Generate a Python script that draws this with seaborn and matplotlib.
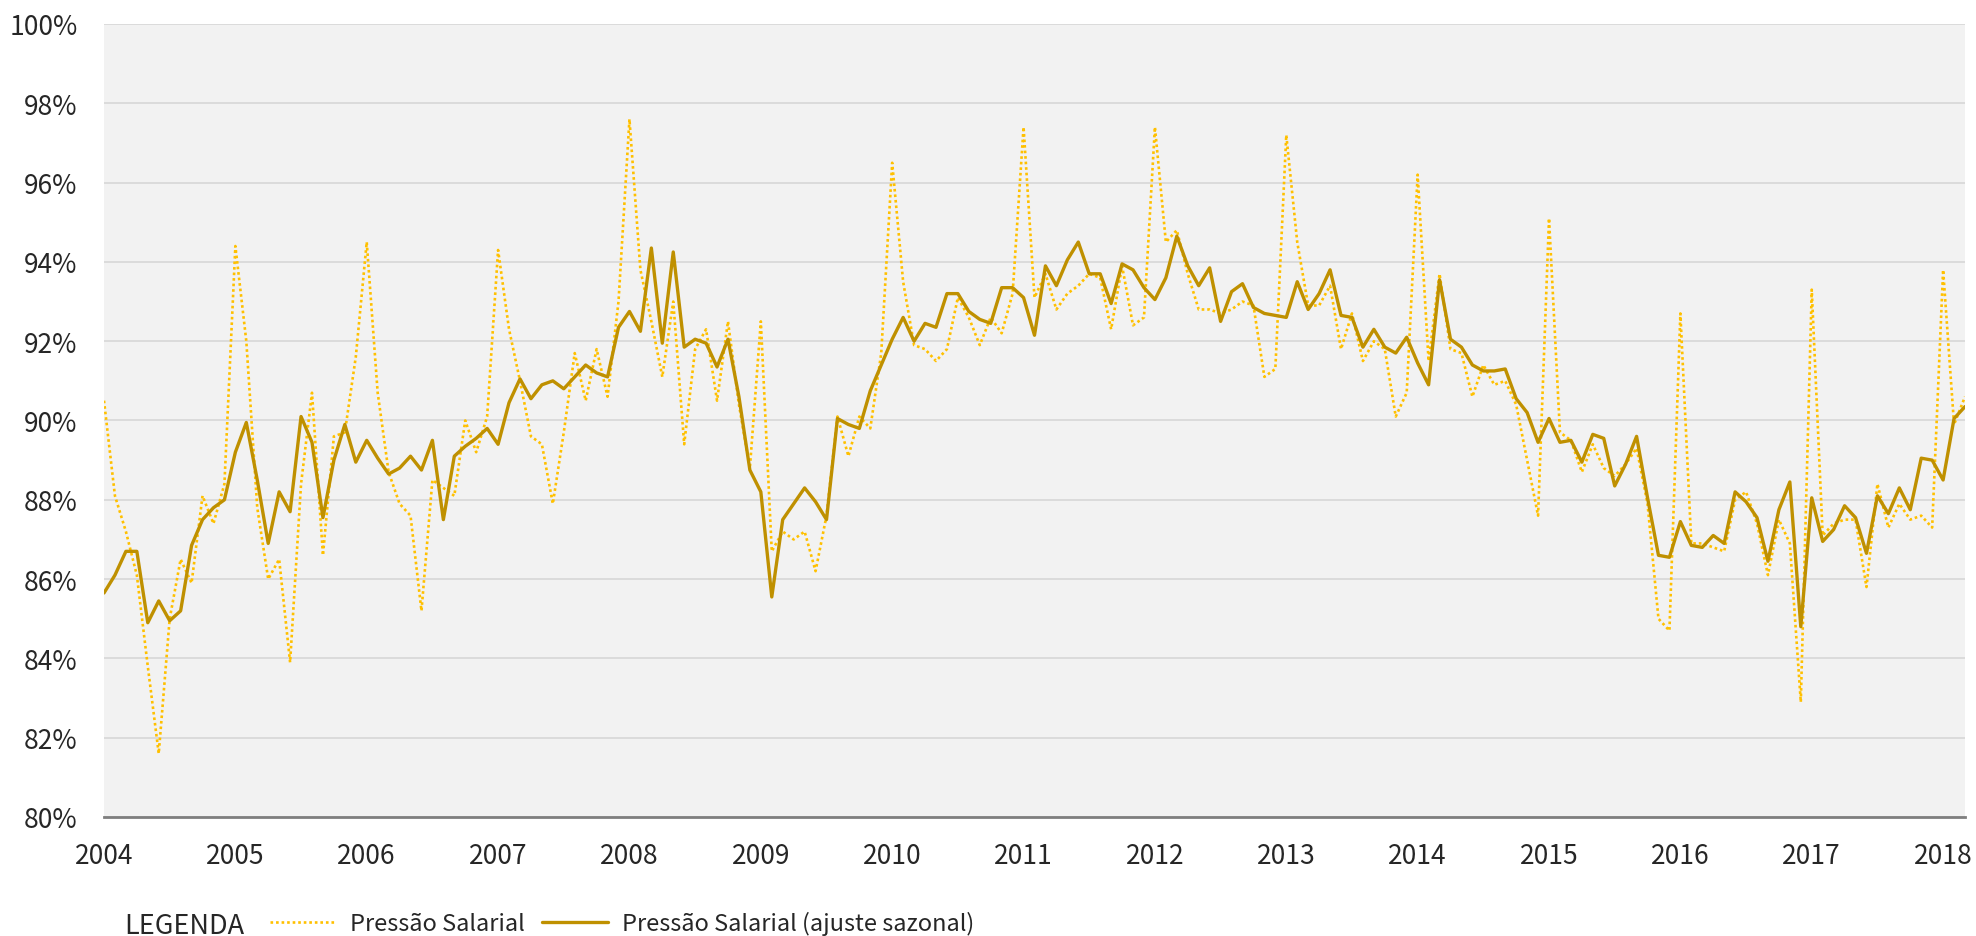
import numpy as np
import pandas as pd
import matplotlib
matplotlib.use("Agg")
import matplotlib.pyplot as plt
from matplotlib.ticker import FuncFormatter
import seaborn as sns

# monthly series, Jan 2004 .. Mar 2018 (values in %)
start_year = 2004
pressao = [
    90.5, 88.1, 87.2, 86.1, 83.8, 81.6, 85.0, 86.5, 85.9, 88.1, 87.4, 88.4,
    94.4, 92.0, 87.8, 86.0, 86.5, 83.9, 88.4, 90.7, 86.6, 89.6, 89.7, 91.6,
    94.5, 90.7, 88.7, 87.9, 87.6, 85.2, 88.5, 88.3, 88.1, 90.0, 89.2, 90.1,
    94.3, 92.3, 91.0, 89.6, 89.4, 87.9, 89.7, 91.7, 90.5, 91.8, 90.6, 93.0,
    97.6, 93.8, 92.5, 91.1, 93.0, 89.4, 91.8, 92.3, 90.5, 92.5, 90.4, 88.8,
    92.5, 86.7, 87.2, 87.0, 87.2, 86.2, 87.6, 90.1, 89.1, 90.1, 89.8, 91.7,
    96.5, 93.5, 91.9, 91.8, 91.5, 91.8, 93.1, 92.6, 91.9, 92.6, 92.2, 93.2,
    97.4, 93.1, 93.7, 92.8, 93.2, 93.4, 93.7, 93.6, 92.3, 93.9, 92.4, 92.6,
    97.4, 94.5, 94.8, 93.7, 92.8, 92.8, 92.7, 92.8, 93.0, 92.9, 91.1, 91.3,
    97.2, 94.5, 92.9, 92.9, 93.4, 91.8, 92.7, 91.5, 92.0, 91.8, 90.1, 90.7,
    96.2, 91.5, 93.7, 91.8, 91.7, 90.6, 91.4, 90.9, 91.0, 90.4, 89.0, 87.6,
    95.1, 89.7, 89.5, 88.7, 89.4, 88.8, 88.6, 88.9, 89.3, 87.9, 85.0, 84.7,
    92.7, 86.9, 86.9, 86.8, 86.7, 88.0, 88.2, 87.4, 86.1, 87.5, 86.9, 82.9,
    93.3, 87.1, 87.4, 87.5, 87.5, 85.8, 88.4, 87.3, 87.9, 87.5, 87.6, 87.3,
    93.8, 89.9, 90.6,
]
ajuste = [
    85.65, 86.1, 86.7, 86.7, 84.9, 85.45, 84.95, 85.2, 86.85, 87.5, 87.8, 88.0,
    89.2, 89.95, 88.5, 86.9, 88.2, 87.7, 90.1, 89.45, 87.55, 89.0, 89.9, 88.95,
    89.5, 89.05, 88.65, 88.8, 89.1, 88.75, 89.5, 87.5, 89.1, 89.35, 89.55, 89.8,
    89.4, 90.45, 91.05, 90.55, 90.9, 91.0, 90.8, 91.1, 91.4, 91.2, 91.1, 92.35,
    92.75, 92.25, 94.35, 91.95, 94.25, 91.85, 92.05, 91.95, 91.35, 92.05, 90.6, 88.75,
    88.2, 85.55, 87.5, 87.9, 88.3, 87.95, 87.5, 90.05, 89.9, 89.8, 90.75, 91.4,
    92.05, 92.6, 92.0, 92.45, 92.35, 93.2, 93.2, 92.75, 92.55, 92.45, 93.35, 93.35,
    93.1, 92.15, 93.9, 93.4, 94.05, 94.5, 93.7, 93.7, 92.95, 93.95, 93.8, 93.35,
    93.05, 93.6, 94.65, 93.9, 93.4, 93.85, 92.5, 93.25, 93.45, 92.85, 92.7, 92.65,
    92.6, 93.5, 92.8, 93.2, 93.8, 92.65, 92.6, 91.85, 92.3, 91.85, 91.7, 92.1,
    91.45, 90.9, 93.55, 92.05, 91.85, 91.4, 91.25, 91.25, 91.3, 90.55, 90.2, 89.45,
    90.05, 89.45, 89.5, 88.95, 89.65, 89.55, 88.35, 88.9, 89.6, 88.05, 86.6, 86.55,
    87.45, 86.85, 86.8, 87.1, 86.9, 88.2, 87.95, 87.55, 86.45, 87.75, 88.45, 84.8,
    88.05, 86.95, 87.25, 87.85, 87.55, 86.65, 88.1, 87.65, 88.3, 87.75, 89.05, 89.0,
    88.5, 90.05, 90.35,
]
label_raw = "Pressão Salarial"
label_adj = "Pressão Salarial (ajuste sazonal)"
year_ticks = list(range(2004, 2019))
pct_ticks = list(range(80, 101, 2))

n = len(pressao)
t = start_year + np.arange(n) / 12
df = pd.DataFrame({"t": t, label_raw: pressao, label_adj: ajuste})
long = df.melt("t", var_name="serie", value_name="valor")

sns.set_style("white")
plt.rcParams["font.family"] = ["Noto Sans CJK JP", "DejaVu Sans"]
text_col = "#262626"

W, H = 1976, 937
fig = plt.figure(figsize=(W / 100, H / 100), dpi=100)
ax = fig.add_axes([104 / W, 1 - 818 / H, (1965 - 104) / W, (818 - 25) / H])
ax.set_facecolor("#F2F2F2")

sns.lineplot(data=long, x="t", y="valor", hue="serie", style="serie",
             hue_order=[label_raw, label_adj], style_order=[label_raw, label_adj],
             palette={label_raw: "#FFC000", label_adj: "#BF9000"},
             dashes={label_raw: (1, 1.1), label_adj: ""},
             ax=ax, legend=False)
ax.lines[0].set_linewidth(1.9)
ax.lines[1].set_linewidth(2.4)

ax.set_xlim(t[0], t[-1])
ax.set_ylim(80, 100)
ax.set_xticks(year_ticks)
ax.set_yticks(pct_ticks)
ax.yaxis.set_major_formatter(FuncFormatter(lambda v, p: f"{v:.0f}%"))
ax.set_xlabel("")
ax.set_ylabel("")

ax.yaxis.grid(True, color="#D9D9D9", linewidth=1.3)
ax.xaxis.grid(False)
ax.set_axisbelow(True)
for s in ["left", "right", "top"]:
    ax.spines[s].set_visible(False)
ax.spines["bottom"].set_color("#7F7F7F")
ax.spines["bottom"].set_linewidth(2)

ax.tick_params(axis="x", direction="inout", length=12, width=1, color="#404040",
               pad=12, labelsize=19, labelcolor=text_col)
ax.tick_params(axis="y", length=0, pad=19, labelsize=19, labelcolor=text_col)

fig.text(124 / W, 1 - 934 / H, "LEGENDA", fontsize=19.5, color=text_col,
         ha="left", va="baseline")
fig.legend(handles=ax.lines[:2], labels=[label_raw, label_adj],
           loc="center left", bbox_to_anchor=(270 / W, 1 - 924 / H),
           ncol=2, frameon=False, fontsize=17, handlelength=2.8,
           handletextpad=0.6, columnspacing=0.7, borderpad=0, borderaxespad=0,
           labelcolor=text_col)

fig.savefig("out.png", dpi=100)
